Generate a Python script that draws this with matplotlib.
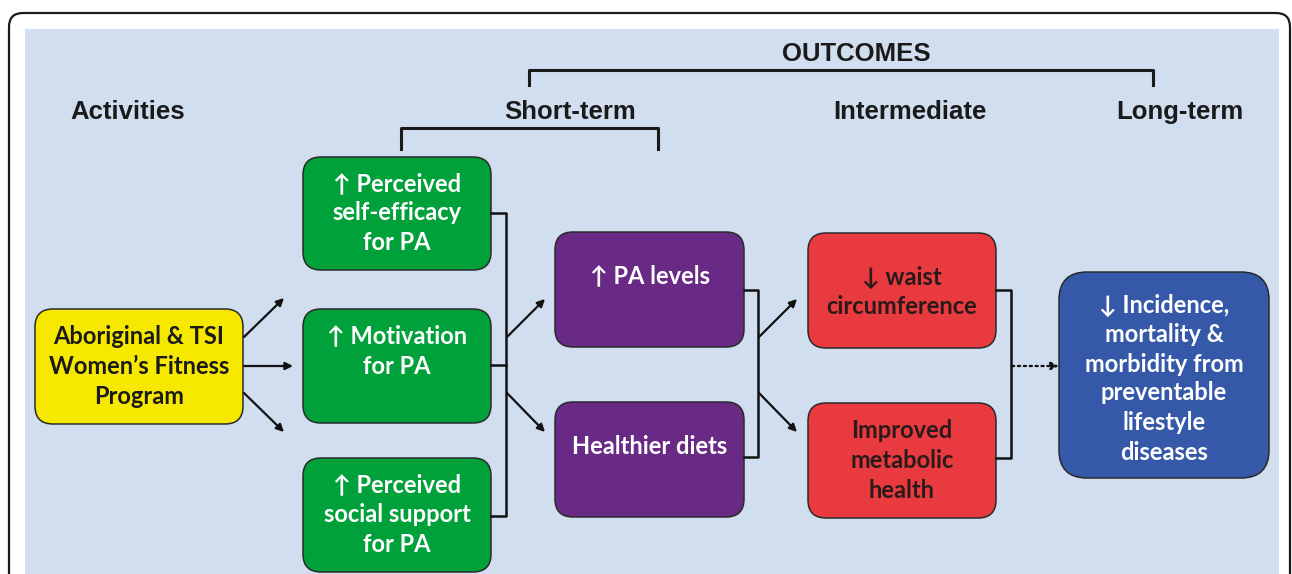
import matplotlib.pyplot as plt
from matplotlib.patches import FancyBboxPatch, Rectangle

# labels
headers = ["Activities", "Short-term", "Intermediate", "Long-term"]
top_label = "OUTCOMES"
activity_lines = ["Aboriginal & TSI", "Women\u2019s Fitness", "Program"]
green_labels = [["\u2191 Perceived", "self-efficacy", "for PA"],
                ["\u2191 Motivation", "for PA"],
                ["\u2191 Perceived", "social support", "for PA"]]
purple_labels = [["\u2191 PA levels"], ["Healthier diets"]]
red_labels = [["\u2193 waist", "circumference"], ["Improved", "metabolic", "health"]]
blue_labels = ["\u2193 Incidence,", "mortality &", "morbidity from",
               "preventable", "lifestyle", "diseases"]

# layout (pixel space, y down)
header_x = [128, 570, 910, 1180]
header_y = 112
W, H = 1292, 574

fig = plt.figure(figsize=(W / 100, H / 100), dpi=100)
ax = fig.add_axes([0, 0, 1, 1])
ax.set_xlim(0, W)
ax.set_ylim(H, 0)
ax.axis('off')

# frame and background panel
ax.add_patch(FancyBboxPatch((9, 13), 1281, 600, boxstyle="round,pad=0,rounding_size=14",
                            fc='white', ec='#1a1a1a', lw=1.6))
ax.add_patch(Rectangle((25, 29), 1254, 560, fc='#d1deef', ec='none'))

hfont = dict(family='Liberation Sans', weight='bold', fontsize=18.5, color='#1a1a1a',
             ha='center', va='center')
for x, t in zip(header_x, headers):
    ax.text(x, header_y, t, **hfont)
ax.text(856, 54, top_label, **hfont)

# brackets
ax.plot([529, 529, 1153, 1153], [85, 70, 70, 85], color='#1a1a1a', lw=2.2)
ax.plot([401, 401, 658, 658], [149, 128, 128, 149], color='#1a1a1a', lw=2.2)

bfam = ['Lato', 'DejaVu Sans']


def box(x0, y0, x1, y1, fc, lines, tcolor, ys, r=18, fs=17):
    ax.add_patch(FancyBboxPatch((x0, y0), x1 - x0, y1 - y0,
                                boxstyle=f"round,pad=0,rounding_size={r}",
                                fc=fc, ec='#2a2a2a', lw=1.1))
    cx = (x0 + x1) / 2
    for t, y in zip(lines, ys):
        ax.text(cx, y, t, family=bfam, weight='bold', fontsize=fs, color=tcolor,
                ha='center', va='center')


def arrow(p0, p1, ls='-'):
    ax.annotate('', xy=p1, xytext=p0,
                arrowprops=dict(arrowstyle='-|>', color='#111111', lw=1.6, ls=ls,
                                mutation_scale=11, shrinkA=0, shrinkB=0))


# activity box
box(35, 309, 243, 424, '#f7e800', activity_lines, '#1a1a1a', [336, 366, 396])
arrow((244, 337), (284, 298))
arrow((244, 366), (293, 366))
arrow((244, 393), (284, 432))

# green boxes
green_pos = [(157, 270), (309, 423), (458, 572)]
green_ys = [[184, 213, 242], [336, 366], [485, 515, 545]]
for (y0, y1), lab, ys in zip(green_pos, green_labels, green_ys):
    box(303, y0, 491, y1, '#00a13a', lab, 'white', ys)
ax.plot([491, 506, 506, 491], [213, 213, 516, 516], color='#111111', lw=1.8)
ax.plot([491, 506], [365, 365], color='#111111', lw=1.8)
arrow((507, 337), (545, 299))
arrow((507, 393), (545, 432))

# purple boxes
box(555, 232, 744, 347, '#692a86', purple_labels[0], 'white', [276])
box(555, 402, 744, 517, '#692a86', purple_labels[1], 'white', [446])
ax.plot([744, 758, 758, 744], [290, 290, 457, 457], color='#111111', lw=1.8)
arrow((759, 337), (797, 299))
arrow((759, 393), (797, 432))

# red boxes
box(808, 233, 996, 348, '#e83a3f', red_labels[0], '#2a1a1a', [277, 307])
box(808, 403, 996, 518, '#e83a3f', red_labels[1], '#2a1a1a', [431, 461, 491])
ax.plot([996, 1011, 1011, 996], [290, 290, 458, 458], color='#111111', lw=1.8)
arrow((1012, 366), (1059, 366), ls=':')

# long-term box
box(1059, 272, 1269, 478, '#3559a8', blue_labels, 'white',
    [305, 335, 364, 393, 423, 453], r=28)

fig.savefig('out.png', dpi=100)
